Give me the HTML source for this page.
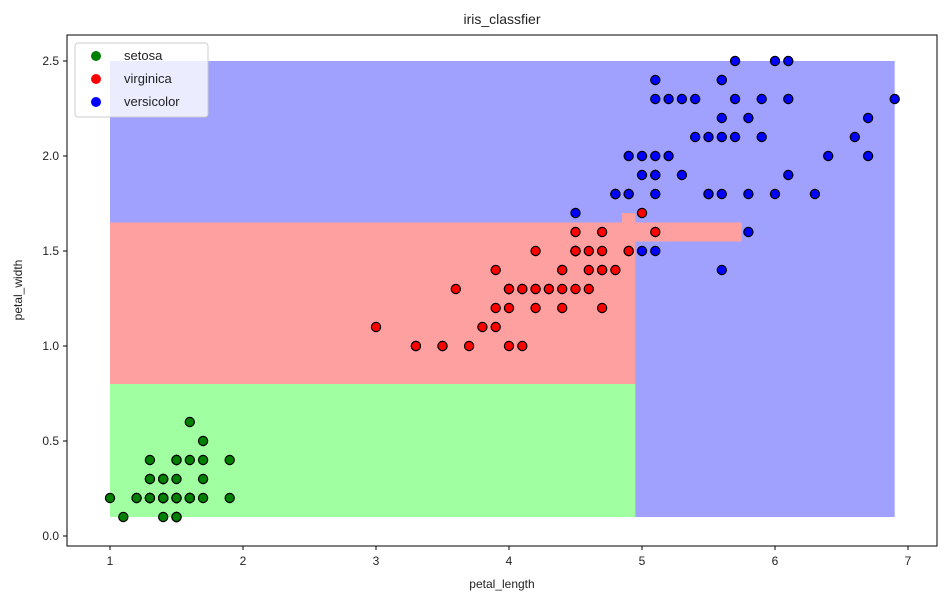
<!DOCTYPE html>
<html><head><meta charset="utf-8"><style>
body{margin:0;background:#fff;font-family:"Liberation Sans","DejaVu Sans",sans-serif;}
</style></head><body>
<svg id="chart" width="947" height="602" xmlns="http://www.w3.org/2000/svg" font-family="Liberation Sans, DejaVu Sans, sans-serif"></svg>
<script>
const xTicks=[1,2,3,4,5,6,7];
const yTicks=[0.0,0.5,1.0,1.5,2.0,2.5];
const regions=[
 {name:'versicolor-region',x0:1,x1:6.9,y0:0.1,y1:2.5,c:'#a0a0ff'},
 {name:'setosa-region',x0:1,x1:4.95,y0:0.1,y1:0.8,c:'#a0ffa0'},
 {name:'virginica-region',x0:1,x1:4.95,y0:0.8,y1:1.65,c:'#ffa0a0'},
 {name:'virginica-strip',x0:4.95,x1:5.75,y0:1.55,y1:1.65,c:'#ffa0a0'},
 {name:'virginica-notch',x0:4.85,x1:4.95,y0:1.65,y1:1.7,c:'#ffa0a0'}
];
const setosaLen=[1.4,1.4,1.3,1.5,1.4,1.7,1.4,1.5,1.4,1.5,1.5,1.6,1.4,1.1,1.2,1.5,1.3,1.4,1.7,1.5,1.7,1.5,1.0,1.7,1.9,1.6,1.6,1.5,1.4,1.6,1.6,1.5,1.5,1.4,1.5,1.2,1.3,1.5,1.3,1.5,1.3,1.3,1.3,1.6,1.9,1.4,1.6,1.4,1.5,1.4];
const setosaWid=[0.2,0.2,0.2,0.2,0.2,0.4,0.3,0.2,0.2,0.1,0.2,0.2,0.1,0.1,0.2,0.4,0.4,0.3,0.3,0.3,0.2,0.4,0.2,0.5,0.2,0.2,0.4,0.2,0.2,0.2,0.2,0.4,0.1,0.2,0.1,0.2,0.2,0.1,0.2,0.2,0.3,0.3,0.2,0.6,0.4,0.3,0.2,0.2,0.2,0.2];
const virgLen=[4.7,4.5,4.9,4.0,4.6,4.5,4.7,3.3,4.6,3.9,3.5,4.2,4.0,4.7,3.6,4.4,4.5,4.1,4.5,3.9,4.8,4.0,4.9,4.7,4.3,4.4,4.8,5.0,4.5,3.5,3.8,3.7,3.9,5.1,4.5,4.5,4.7,4.4,4.1,4.0,4.4,4.6,4.0,3.3,4.2,4.2,4.2,4.3,3.0,4.1];
const virgWid=[1.4,1.5,1.5,1.3,1.5,1.3,1.6,1.0,1.3,1.4,1.0,1.5,1.0,1.4,1.3,1.4,1.5,1.0,1.5,1.1,1.8,1.3,1.5,1.2,1.3,1.4,1.4,1.7,1.5,1.0,1.1,1.0,1.2,1.6,1.5,1.6,1.5,1.3,1.3,1.3,1.2,1.4,1.2,1.0,1.3,1.2,1.3,1.3,1.1,1.3];
const versLen=[6.0,5.1,5.9,5.6,5.8,6.6,4.5,6.3,5.8,6.1,5.1,5.3,5.5,5.0,5.1,5.3,5.5,6.7,6.9,5.0,5.7,4.9,6.7,4.9,5.7,6.0,4.8,4.9,5.6,5.8,6.1,6.4,5.6,5.1,5.6,6.1,5.6,5.5,4.8,5.4,5.6,5.1,5.1,5.9,5.7,5.2,5.0,5.2,5.4,5.1];
const versWid=[2.5,1.9,2.1,1.8,2.2,2.1,1.7,1.8,1.8,2.5,2.0,1.9,2.1,2.0,2.4,2.3,1.8,2.2,2.3,1.5,2.3,2.0,2.0,1.8,2.1,1.8,1.8,1.8,2.1,1.6,1.9,2.0,2.2,1.5,1.4,2.3,2.4,1.8,1.8,2.1,2.4,2.3,1.9,2.3,2.5,2.3,1.9,2.0,2.3,1.8];

const svg=document.getElementById('chart');
const NS='http://www.w3.org/2000/svg';
const X=v=>110+(v-1)*133;
const Y=v=>536-v*190;
const L=67,T=35,R=937,B=546;
function mk(tag,attrs,parent){const e=document.createElementNS(NS,tag);for(const k in attrs)e.setAttribute(k,attrs[k]);(parent||svg).appendChild(e);return e;}

regions.forEach(r=>{
 const e=mk('rect',{x:X(r.x0),y:Y(r.y1),width:X(r.x1)-X(r.x0),height:Y(r.y0)-Y(r.y1),fill:r.c});
 
 
});
function pts(xs,ys,col,name){
 const g=mk('g',{});
 
 
 xs.forEach((x,i)=>{
  const c=mk('circle',{cx:X(x),cy:Y(ys[i]),r:4.6,fill:col,stroke:'#000','stroke-width':1.2},g);
  
  
 });
}
pts(setosaLen,setosaWid,'#008000','setosa-points');
pts(virgLen,virgWid,'#ff0000','virginica-points');
pts(versLen,versWid,'#0000ff','versicolor-points');

const frame=mk('rect',{x:L,y:T,width:R-L,height:B-T,fill:'none',stroke:'#000','stroke-width':1});


xTicks.forEach(t=>{
 mk('line',{x1:X(t),x2:X(t),y1:B,y2:B+4,stroke:'#000'});
 const tx=mk('text',{x:X(t),y:B+19,'text-anchor':'middle','font-size':12,fill:'#222'});
 tx.textContent=t;
 
 
});
yTicks.forEach(t=>{
 mk('line',{x1:L-4,x2:L,y1:Y(t),y2:Y(t),stroke:'#000'});
 const tx=mk('text',{x:L-8,y:Y(t)+4,'text-anchor':'end','font-size':12,fill:'#222'});
 tx.textContent=t.toFixed(1);
 
 
});
const title=mk('text',{x:(L+R)/2,y:24,'text-anchor':'middle','font-size':14,fill:'#222'});
title.textContent='iris_classfier';


const xl=mk('text',{x:(L+R)/2,y:588,'text-anchor':'middle','font-size':12,fill:'#222'});
xl.textContent='petal_length';


const yl=mk('text',{x:22,y:290,'text-anchor':'middle','font-size':12,fill:'#222',transform:'rotate(-90 22 290)'});
yl.textContent='petal_width';



const lg=mk('g',{});


mk('rect',{x:75,y:43,width:133,height:74,rx:3,fill:'#fff','fill-opacity':0.8,stroke:'#ccc'},lg);
[['setosa','#008000'],['virginica','#ff0000'],['versicolor','#0000ff']].forEach((e,i)=>{
 const y=56+i*23;
 const c=mk('circle',{cx:96,cy:y,r:5,fill:e[1]},lg);
 
 
 const t=mk('text',{x:124,y:y+4,'font-size':13,fill:'#222'},lg);
 t.textContent=e[0];
 
 
});
</script>
</body></html>
